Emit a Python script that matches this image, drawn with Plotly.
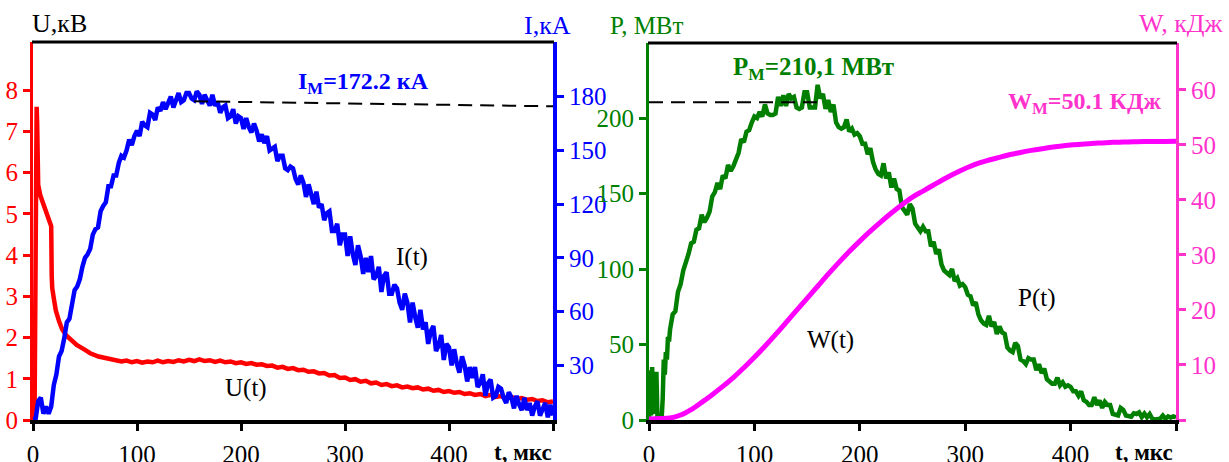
import plotly.graph_objects as go

# ---------------- data ----------------
# Left panel: U(t) [kV] and I(t) [kA]
t_u = [0, 1, 1.5, 2, 2.5, 3, 3.5, 4, 4.5, 5, 7, 10, 13, 16, 17.5, 18, 18.5, 20, 22, 25, 28, 32, 37, 42, 50, 55, 63, 70, 80, 85,
       90, 95, 100, 105, 110, 115, 120, 125, 130, 135, 140, 145, 150, 155, 160, 165, 170, 175, 180, 185, 190, 195,
       200, 205, 210, 215, 220, 225, 230, 235, 240, 245, 250, 255, 260, 265, 270, 275, 280, 285, 290, 295,
       300, 305, 310, 315, 320, 325, 330, 335, 340, 345, 350, 355, 360, 365, 370, 375, 380, 385, 390, 395,
       400, 405, 410, 415, 420, 425, 430, 435, 440, 445, 450, 455, 460, 465, 470, 475, 480, 485, 490, 495, 500]
u_kv = [0, 0, 0.1, 3.0, 6.5, 7.4, 7.6, 7.2, 6.2, 5.7, 5.45, 5.25, 5.05, 4.85, 4.7, 3.5, 3.2, 2.95, 2.65, 2.4, 2.2, 2.05, 1.92, 1.82, 1.7, 1.62, 1.54, 1.50, 1.45, 1.42,
        1.44, 1.40, 1.43, 1.39, 1.42, 1.40, 1.44, 1.40, 1.43, 1.41, 1.45, 1.42, 1.46, 1.43, 1.47, 1.43, 1.45, 1.41, 1.44, 1.40, 1.42, 1.38,
        1.40, 1.36, 1.38, 1.34, 1.35, 1.31, 1.32, 1.27, 1.29, 1.24, 1.26, 1.21, 1.22, 1.17, 1.18, 1.13, 1.14, 1.08, 1.09, 1.02,
        1.03, 0.97, 0.99, 0.93, 0.95, 0.89, 0.91, 0.85, 0.87, 0.82, 0.84, 0.79, 0.81, 0.77, 0.79, 0.74, 0.76, 0.71, 0.73, 0.68,
        0.70, 0.66, 0.68, 0.63, 0.65, 0.61, 0.63, 0.58, 0.61, 0.56, 0.58, 0.53, 0.56, 0.51, 0.53, 0.49, 0.51, 0.46, 0.48, 0.43, 0.45]

t_i = [k * 2.5 for k in range(201)]   # sampling grid, 2.5 us
i_ka = [0, 0, 10, 12, 3, 7, 3, 7, 19, 25, 35, 38, 45, 54, 56, 65, 72, 74, 78, 85,
        90, 92, 95, 103, 106, 107, 116, 119, 121, 130, 130, 136, 136, 143, 147, 146, 150, 156, 153, 158,
        161, 158, 166, 164, 163, 171, 170, 167, 174, 172, 177, 173, 176, 180, 174, 179, 182, 177, 178, 182,
        182, 179, 178, 183, 181, 176, 181, 178, 175, 181, 175, 177, 171, 174, 175, 168, 169, 173, 165, 169,
        168, 162, 168, 163, 160, 165, 161, 155, 159, 154, 158, 150, 151, 152, 144, 147, 147, 140, 139, 141,
        140, 134, 131, 136, 132, 124, 131, 124, 120, 127, 118, 120, 111, 115, 116, 105, 105, 109, 97, 103,
        103, 91, 102, 92, 86, 97, 91, 81, 90, 82, 91, 78, 80, 85, 71, 80, 82, 70, 70, 75,
        73, 65, 61, 70, 65, 54, 65, 57, 51, 61, 50, 54, 42, 49, 52, 38, 41, 47, 33, 42,
        40, 30, 39, 31, 26, 35, 30, 21, 29, 23, 29, 18, 20, 25, 13, 20, 22, 12, 13, 18,
        17, 12, 9, 15, 12, 6, 13, 8, 5, 12, 5, 9, 2, 7, 10, 2, 5, 9, 1, 8, 2]

im_t = [155, 502]          # I_M reference line
im_v = [177.4, 174.6]

# Right panel: P(t) [MW] and W(t) [kJ]
t_p = [0, 1, 2, 3, 4, 5, 6, 7, 8, 9, 10, 11, 12, 13, 14, 15, 16, 17, 18, 19] + [20 + k * 2.5 for k in range(193)]
p_mw = [0, 33, 3, 35, 6, 30, 4, 32, 2, 0, 0, 0, 1, 14, 40, 30, 45, 40, 55, 52,
        60, 70, 72, 85, 90, 99, 104, 110, 117, 118, 126, 127,
        136, 131, 134, 138, 148, 151, 157, 153, 162, 160, 169, 165, 168, 172, 177, 186, 184, 191, 192, 197,
        201, 200, 204, 201, 209, 203, 202, 202, 203, 214, 208, 215, 208, 216, 213, 214, 207, 206, 207, 217,
        217, 207, 207, 207, 222, 213, 216, 206, 212, 204, 209, 197, 194, 193, 194, 199, 191, 193, 189, 190,
        188, 183, 183, 176, 180, 171, 166, 163, 162, 170, 160, 164, 154, 160, 153, 152, 141, 138, 136, 143,
        140, 130, 127, 125, 128, 125, 125, 115, 118, 110, 113, 103, 99, 97, 96, 100, 92, 94, 89, 90,
        88, 83, 82, 76, 78, 70, 66, 64, 63, 69, 62, 65, 57, 62, 58, 57, 48, 46, 45, 51,
        49, 40, 39, 37, 41, 40, 40, 33, 37, 31, 34, 27, 25, 24, 24, 28, 23, 25, 22, 23,
        22, 19, 19, 16, 19, 13, 12, 10, 10, 15, 10, 13, 8, 12, 10, 10, 4, 3.5, 3, 8,
        6.7, 3, 2.5, 2.2, 4.5, 4, 5, 1.9, 4.3, 1.8, 4, 0.8, 0.4, 0.3, 0.9, 3, 0.8, 2.4, 1.6, 2.4, 1.7]

pm_t = [0, 164]            # P_M reference line
pm_v = [210.5, 210.5]

t_w = list(range(0, 510, 10))
w_kj = [0.2, 0.25, 0.35, 0.9, 1.9, 3.2, 4.6, 6.1, 7.7, 9.5, 11.4, 13.4, 15.5, 17.7, 19.9, 22.1, 24.3, 26.5, 28.6, 30.6,
        32.5, 34.3, 36.0, 37.6, 39.1, 40.5, 41.6, 42.7, 43.8, 44.8, 45.7, 46.5, 47.1, 47.6, 48.1, 48.5, 48.9, 49.2, 49.5, 49.75,
        49.95, 50.1, 50.25, 50.35, 50.45, 50.5, 50.55, 50.6, 50.6, 50.62, 50.63]

x_ticks = [0, 100, 200, 300, 400, 500]
x_ticktext = ["0", "100", "200", "300", "400", " "]
u_ticks = [0, 1, 2, 3, 4, 5, 6, 7, 8]
i_ticks = [30, 60, 90, 120, 150, 180]
p_ticks = [0, 50, 100, 150, 200]
w_ticks = [0, 10, 20, 30, 40, 50, 60]
w_ticktext = [" ", "10", "20", "30", "40", "50", "60"]

# ---------------- style ----------------
RED = "#ff0000"
BLUE = "#0000ff"
GREEN = "#007f00"
MAG = "#ff00ff"
PINK = "#ff33cc"
FONT = "Liberation Serif, Times New Roman, serif"
FS = 25

W, H = 1229, 462
def px(x):
    return x / W
def py(y):
    return 1 - y / H

ydom = [py(420), py(42)]
ydom2 = [py(420), py(43)]

fig = go.Figure()
fig.add_trace(go.Scatter(x=t_u, y=u_kv, mode="lines", line=dict(color=RED, width=4.5), xaxis="x", yaxis="y"))
fig.add_trace(go.Scatter(x=t_i, y=i_ka, mode="lines", line=dict(color=BLUE, width=4.5), xaxis="x", yaxis="y2"))
fig.add_trace(go.Scatter(x=im_t, y=im_v, mode="lines", line=dict(color="black", width=2, dash="14px,8px"), xaxis="x", yaxis="y2"))
fig.add_trace(go.Scatter(x=t_p, y=p_mw, mode="lines", line=dict(color=GREEN, width=4.5), xaxis="x2", yaxis="y3"))
fig.add_trace(go.Scatter(x=pm_t, y=pm_v, mode="lines", line=dict(color="black", width=2, dash="14px,8px"), xaxis="x2", yaxis="y3"))
fig.add_trace(go.Scatter(x=t_w, y=w_kj, mode="lines", line=dict(color=MAG, width=5, shape="spline"), xaxis="x2", yaxis="y4"))

xcommon = dict(range=[0, 500], tickvals=x_ticks, ticktext=x_ticktext, showline=True, linecolor="black", linewidth=4,
               ticks="outside", ticklen=7, tickwidth=3, tickcolor="black", showgrid=False, zeroline=False,
               automargin=False, tickfont=dict(family=FONT, size=FS, color="black"), ticklabelstandoff=2)

def yax(color, lw, rng, tv, tt=None, side="left", **kw):
    d = dict(range=rng, tickvals=tv, showline=True, linecolor=color, linewidth=lw, side=side,
             ticks="outside", ticklen=7, tickwidth=3, tickcolor=color, showgrid=False, zeroline=False,
             automargin=False, tickfont=dict(family=FONT, size=FS, color=color))
    if tt is not None:
        d["ticktext"] = tt
    d.update(kw)
    return d

fig.update_layout(
    template="none",
    width=W, height=H, margin=dict(l=0, r=0, t=0, b=0, pad=0), autosize=False,
    paper_bgcolor="white", plot_bgcolor="white", showlegend=False,
    font=dict(family=FONT),
    xaxis=dict(domain=[px(33), px(553)], anchor="y", **xcommon),
    yaxis=yax(RED, 3, [0, 9.17], u_ticks, domain=ydom, anchor="x"),
    yaxis2=yax(BLUE, 4, [-0.5, 210.5], i_ticks, side="right", overlaying="y", anchor="x"),
    xaxis2=dict(domain=[px(649), px(1176)], anchor="y3", **xcommon),
    yaxis3=yax(GREEN, 3, [0, 249.7], p_ticks, domain=ydom2, anchor="x2"),
    yaxis4=yax(PINK, 3, [0, 68.5], w_ticks, w_ticktext, side="right", overlaying="y3", anchor="x2"),
    shapes=[
        dict(type="line", xref="paper", yref="paper", x0=px(32), x1=px(554), y0=py(42), y1=py(42),
             line=dict(color="black", width=3)),
        dict(type="line", xref="paper", yref="paper", x0=px(648), x1=px(1177), y0=py(43), y1=py(43),
             line=dict(color="black", width=3)),
    ],
)

def ann(text, x, y, color="black", size=FS, xanchor="center"):
    fig.add_annotation(text=text, x=px(x), y=py(y), xref="paper", yref="paper", showarrow=False,
                       xanchor=xanchor, yanchor="middle", font=dict(family=FONT, size=size, color=color))

ann("U,кВ", 30, 23, "black", 26, "left")
ann("I,кА", 573, 25, BLUE, 26, "right")
ann("<b>I<sub>М</sub>=172.2 кА</b>", 431, 83, BLUE, 24, "right")
ann("I(t)", 412, 257, "black", 25)
ann("U(t)", 246, 388, "black", 25)
ann("<b>t, мкс</b>", 492, 452, "black", 23, "left")

ann("P, МВт", 608, 25, GREEN, 25, "left")
ann("<b>P<sub>М</sub>=210,1 МВт</b>", 731, 68, GREEN, 25, "left")
ann("W, кДж", 1226, 23, PINK, 26, "right")
ann("<b>W<sub>М</sub>=50.1 КДж</b>", 1163, 103, PINK, 24, "right")
ann("W(t)", 830, 340, "black", 25)
ann("P(t)", 1037, 298, "black", 25)
ann("<b>t, мкс</b>", 1113, 452, "black", 23, "left")

fig.write_html("out.html", config={"displayModeBar": False},
               post_script="document.body.style.margin='0px';document.body.style.overflow='hidden';")
